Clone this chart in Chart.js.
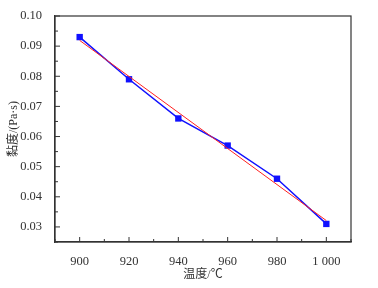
<!DOCTYPE html>
<html>
<head>
<meta charset="utf-8">
<script src="https://cdn.jsdelivr.net/npm/chart.js@4"></script>
<style>
  html, body { margin: 0; padding: 0; background: #fff; }
</style>
</head>
<body>
<canvas id="viscosityChart" width="378" height="288"></canvas>
<script>
// Data
const temps = [900, 920, 940, 960, 980, 1000];
const viscosity = [0.093, 0.079, 0.066, 0.057, 0.046, 0.031];
const fitTemps = [900, 1000];
const fitValues = [0.0919, 0.0321];
const xTicks = [900, 920, 940, 960, 980, 1000];
const yTicks = [0.03, 0.04, 0.05, 0.06, 0.07, 0.08, 0.09, 0.10];

const numFont = { family: 'Liberation Serif', size: 12.5 };
const cjkFont = { family: 'Liberation Serif, Noto Sans CJK SC', size: 12 };

// frame on all four sides plus inward major/minor ticks
const framePlugin = {
  id: 'frame',
  afterDraw(chart) {
    const { ctx, chartArea: a, scales } = chart;
    ctx.save();
    ctx.strokeStyle = '#333';
    ctx.lineWidth = 1.2;
    ctx.strokeRect(a.left, a.top, a.right - a.left, a.bottom - a.top);
    ctx.lineWidth = 1;
    ctx.beginPath();
    for (let v = 890; v <= 1010; v += 10) {
      const x = scales.x.getPixelForValue(v);
      const len = v % 20 === 0 ? 5 : 3;
      ctx.moveTo(x, a.bottom);
      ctx.lineTo(x, a.bottom - len);
    }
    for (let i = 0; i <= 15; i++) {
      const v = 0.025 + i * 0.005;
      const y = scales.y.getPixelForValue(v);
      const len = i % 2 === 1 ? 5 : 3;
      ctx.moveTo(a.left, y);
      ctx.lineTo(a.left + len, y);
    }
    ctx.stroke();
    ctx.restore();
  }
};

const config = {
  type: 'line',
  data: {
    datasets: [
      {
        label: 'measured',
        data: temps.map((t, i) => ({ x: t, y: viscosity[i] })),
        borderColor: '#1010ff',
        backgroundColor: '#1010ff',
        borderWidth: 1.5,
        pointStyle: 'rect',
        pointRadius: 4.5,
        pointBorderWidth: 0,
        order: 2
      },
      {
        label: 'fit',
        data: fitTemps.map((t, i) => ({ x: t, y: fitValues[i] })),
        borderColor: '#ff2020',
        borderWidth: 1,
        pointRadius: 0,
        order: 1
      }
    ]
  },
  options: {
    responsive: false,
    animation: false,
    layout: { padding: { top: 16, right: 27, left: 0, bottom: 0 } },
    plugins: { legend: { display: false }, tooltip: { enabled: false } },
    scales: {
      x: {
        type: 'linear',
        min: 890,
        max: 1010,
        afterBuildTicks: s => { s.ticks = xTicks.map(v => ({ value: v })); },
        afterFit: s => { s.height = 46; },
        grid: { display: false },
        border: { display: true, color: '#333', width: 1.2 },
        ticks: {
          color: '#333',
          font: numFont,
          padding: 4,
          maxRotation: 0,
          callback: v => v === 1000 ? '1 000' : String(v)
        },
        title: {
          display: true,
          text: '温度/℃',
          color: '#333',
          font: cjkFont,
          padding: { top: 0, bottom: 6 }
        }
      },
      y: {
        type: 'linear',
        min: 0.025,
        max: 0.10,
        afterBuildTicks: s => { s.ticks = yTicks.map(v => ({ value: v })); },
        afterFit: s => { s.width = 55; },
        grid: { display: false },
        border: { display: true, color: '#333', width: 1.2 },
        ticks: {
          color: '#333',
          font: numFont,
          padding: 5,
          callback: v => v.toFixed(2)
        },
        title: {
          display: true,
          text: '黏度/(Pa·s)',
          color: '#333',
          font: cjkFont,
          padding: { top: 7, bottom: 0 }
        }
      }
    }
  },
  plugins: [framePlugin]
};

window.addEventListener('DOMContentLoaded', () => {
  new Chart(document.getElementById('viscosityChart'), config);
});
</script>
</body>
</html>
